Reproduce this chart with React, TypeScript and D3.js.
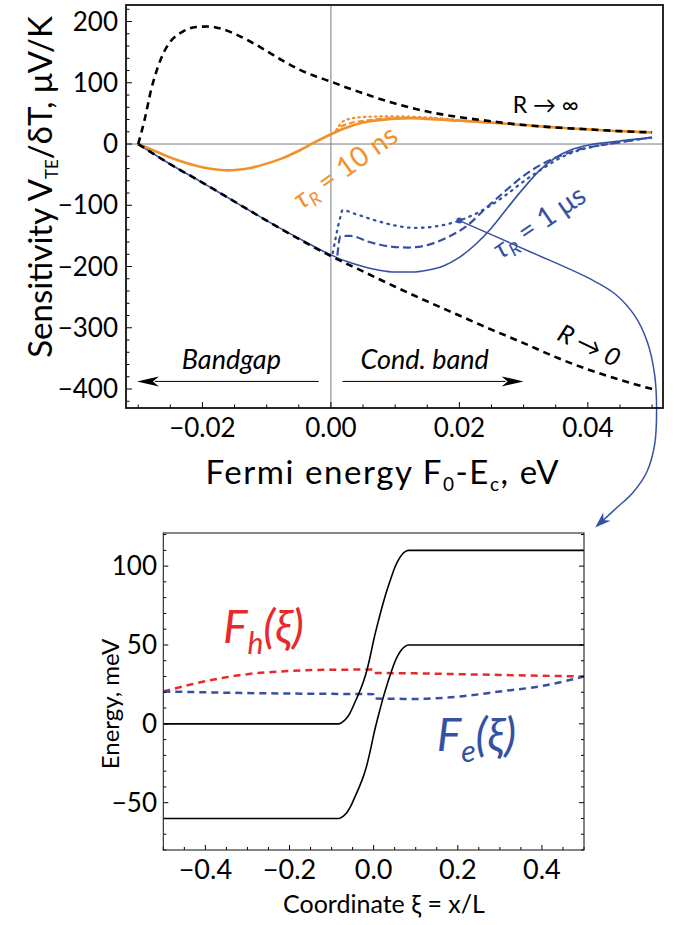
import React from 'react';
import * as d3 from 'd3';

type P = [number, number];

// ---------- Top chart: sensitivity vs Fermi energy ----------
const rInf: P[] = [
  [-0.03, 0], [-0.029, 40], [-0.028, 88], [-0.027, 124], [-0.026, 150], [-0.025, 167],
  [-0.023, 184], [-0.021, 191], [-0.019, 192], [-0.017, 188], [-0.015, 180], [-0.0125, 167],
  [-0.01, 152], [-0.0075, 136], [-0.005, 122], [-0.0025, 111], [0, 102], [0.0025, 92],
  [0.005, 83], [0.0075, 74], [0.01, 66], [0.0125, 59], [0.015, 53], [0.0175, 48],
  [0.02, 44], [0.025, 37], [0.03, 31], [0.035, 27], [0.04, 24], [0.045, 21], [0.05, 19],
];
const rZero: P[] = [
  [-0.03, 0], [-0.025, -33], [-0.02, -63], [-0.015, -94], [-0.01, -125], [-0.005, -155],
  [0, -183], [0.005, -208], [0.01, -233], [0.015, -257], [0.02, -280], [0.025, -303],
  [0.03, -325], [0.035, -348], [0.04, -368], [0.045, -385], [0.05, -400],
];
const orangeSolid: P[] = [
  [-0.03, 0], [-0.0275, -11], [-0.025, -22], [-0.0225, -31], [-0.02, -38], [-0.0175, -42],
  [-0.016, -43], [-0.0145, -42], [-0.0125, -39], [-0.01, -32], [-0.0075, -23], [-0.005, -11],
  [-0.0025, 3], [0, 16], [0.0025, 27], [0.005, 35], [0.0075, 39], [0.01, 41.5], [0.0125, 42],
  [0.015, 41], [0.02, 38], [0.025, 35], [0.03, 31], [0.035, 27], [0.04, 24], [0.045, 21], [0.05, 19],
];
const orangeDashed: P[] = [
  [0.0005, 18], [0.0015, 28], [0.003, 34], [0.006, 39], [0.009, 42], [0.012, 43],
  [0.015, 42], [0.02, 38.5], [0.025, 35],
];
const orangeDotted: P[] = [
  [0.0008, 22], [0.0015, 33], [0.0025, 40], [0.005, 44], [0.008, 45], [0.011, 45],
  [0.014, 44], [0.017, 42], [0.02, 39], [0.025, 35],
];
const blueSolid: P[] = [
  [-0.03, 0], [-0.025, -33], [-0.02, -63], [-0.015, -94], [-0.01, -125], [-0.005, -154],
  [-0.0025, -168], [0, -181], [0.0025, -192], [0.005, -200], [0.0075, -206], [0.01, -209],
  [0.0125, -209], [0.015, -206], [0.0175, -199], [0.02, -185], [0.0225, -164], [0.025, -137],
  [0.0275, -104], [0.03, -72], [0.0325, -43], [0.035, -22], [0.0375, -9], [0.04, -2],
  [0.0425, 2], [0.045, 5], [0.0475, 8], [0.05, 10],
];
const blueDashed: P[] = [
  [0.001, -182], [0.0015, -150], [0.003, -150], [0.006, -160], [0.009, -167], [0.012, -169],
  [0.015, -165], [0.018, -153], [0.021, -135], [0.024, -106], [0.027, -78], [0.03, -52],
  [0.033, -32], [0.036, -18], [0.039, -8], [0.042, -2], [0.045, 3], [0.05, 11],
];
const blueDotted: P[] = [
  [0.0003, -178], [0.0008, -150], [0.0015, -118], [0.0018, -108], [0.004, -115], [0.007, -125],
  [0.01, -133], [0.013, -137], [0.016, -135], [0.02, -125], [0.0246, -102], [0.027, -85],
  [0.0304, -58], [0.033, -40], [0.0362, -20], [0.039, -9], [0.042, -2], [0.045, 3], [0.05, 11],
];
const markerPoint: P = [0.02, -125];
const connector: P[] = [
  [0.02, -125], [0.031, -175.8], [0.0403, -219.9], [0.0442, -244.4], [0.0473, -280.3],
  [0.0493, -324.4], [0.0504, -376.7], [0.0507, -433.8], [0.0504, -491], [0.0492, -535.1],
  [0.047, -569.3], [0.0445, -593.8], [0.0416, -621.6],
];
const topXTicks = d3.range(-6, 11).map((i) => i * 0.005);
const topYTicks = d3.range(-21, 12).map((i) => i * 20);

// ---------- Bottom chart: energy vs coordinate ----------
const condBand: P[] = [
  [-0.5, 0], [-0.083, 0], [-0.077, 0.6], [-0.07, 2], [-0.063, 4], [-0.056, 7], [-0.044, 14],
  [-0.034, 20], [-0.024, 27], [-0.016, 34], [-0.008, 43], [0, 53], [0.012, 66], [0.022, 76],
  [0.032, 85], [0.042, 93], [0.05, 99], [0.058, 103.5], [0.065, 106.5], [0.074, 109], [0.083, 110],
  [0.5, 110],
];
const valBand: P[] = [
  [-0.5, -60], [-0.083, -60], [-0.077, -59.4], [-0.07, -58], [-0.063, -56], [-0.056, -53],
  [-0.044, -46], [-0.034, -40], [-0.024, -33], [-0.016, -26], [-0.008, -17], [0, -7], [0.012, 6],
  [0.022, 16], [0.032, 25], [0.042, 33], [0.05, 39], [0.058, 43.5], [0.065, 46.5], [0.074, 49],
  [0.083, 50], [0.5, 50],
];
const fh: P[] = [
  [-0.5, 20.5], [-0.4, 27], [-0.3, 31.5], [-0.2, 33.5], [-0.1, 34.3], [-0.001, 34.4],
  [0.001, 32.3], [0.1, 32], [0.2, 31.5], [0.3, 31], [0.4, 30.5], [0.5, 30],
];
const fe: P[] = [
  [-0.5, 20.5], [-0.4, 20], [-0.3, 19.5], [-0.2, 19.2], [-0.1, 19], [-0.001, 18.8],
  [0.001, 16], [0.1, 15.8], [0.2, 17.2], [0.3, 20.5], [0.4, 24], [0.5, 30],
];
const botXTicks = d3.range(-10, 11).map((i) => i * 0.05);
const botYTicks = d3.range(-8, 13).map((i) => i * 10);

const ORANGE = '#F2902B';
const BLUE = '#3451A4';
const RED = '#E62A2B';
const FONT = "Lato, 'Open Sans', sans-serif";

export default function App() {
  const x1 = d3.scaleLinear().domain([-0.0319, 0.0517]).range([126, 663]);
  const y1 = d3.scaleLinear().domain([-431, 227]).range([408, 5]);
  const x2 = d3.scaleLinear().domain([-0.5, 0.5]).range([163.3, 584]);
  const y2 = d3.scaleLinear().domain([-80, 121]).range([850, 533]);

  const l1 = d3.line<P>().x((d) => x1(d[0])).y((d) => y1(d[1])).curve(d3.curveMonotoneX);
  const l2 = d3.line<P>().x((d) => x2(d[0])).y((d) => y2(d[1])).curve(d3.curveMonotoneX);
  const lc = d3.line<P>().x((d) => x1(d[0])).y((d) => y1(d[1])).curve(d3.curveCatmullRom.alpha(0.5));

  const fx1 = d3.format('.2f');
  const fy = d3.format('d');
  const fx2 = d3.format('.1f');

  // connector arrowhead
  const cA = connector[connector.length - 2];
  const cB = connector[connector.length - 1];
  const ax = x1(cB[0]), ay = y1(cB[1]);
  const ang = Math.atan2(ay - y1(cA[1]), ax - x1(cA[0]));
  const hl = 16, hw = 5.5;
  const tipX = ax + Math.cos(ang) * 4, tipY = ay + Math.sin(ang) * 4;
  const head = [
    [tipX, tipY],
    [tipX - hl * Math.cos(ang) + hw * Math.sin(ang), tipY - hl * Math.sin(ang) - hw * Math.cos(ang)],
    [tipX - hl * 0.7 * Math.cos(ang), tipY - hl * 0.7 * Math.sin(ang)],
    [tipX - hl * Math.cos(ang) - hw * Math.sin(ang), tipY - hl * Math.sin(ang) + hw * Math.cos(ang)],
  ].map((p) => p.join(',')).join(' ');

  const arrowY = y1(-387.6);
  const bgStart = x1(-0.0019), bgEnd = x1(-0.0302);
  const cbStart = x1(0.0018), cbEnd = x1(0.030);

  const [L1, R1] = x1.range();
  const [B1, T1] = y1.range();
  const [L2, R2] = x2.range();
  const [B2, T2] = y2.range();

  return (
    <svg width={680} height={925} style={{ position: 'absolute', left: 0, top: 0, background: '#fff' }} fontFamily={FONT}>
      <defs>
        <clipPath id="clipTop"><rect x={L1} y={T1} width={R1 - L1} height={B1 - T1} /></clipPath>
        <clipPath id="clipBot"><rect x={L2} y={T2} width={R2 - L2} height={B2 - T2} /></clipPath>
      </defs>

      {/* ===== TOP CHART ===== */}
      <rect x={L1} y={T1} width={R1 - L1} height={B1 - T1} fill="#fff" />
      <line x1={x1(0)} x2={x1(0)} y1={T1} y2={B1} stroke="#7a7a7a" strokeWidth={1} />
      <line x1={L1} x2={R1} y1={y1(0)} y2={y1(0)} stroke="#7a7a7a" strokeWidth={1} />

      <g clipPath="url(#clipTop)" fill="none" strokeLinejoin="round">
        <path d={l1(blueSolid) || ''} stroke={BLUE} strokeWidth={1.6} />
        <path d={l1(blueDashed) || ''} stroke={BLUE} strokeWidth={2.2} strokeDasharray="8,4" />
        <path d={l1(blueDotted) || ''} stroke={BLUE} strokeWidth={2.3} strokeDasharray="1.5,5.5" strokeLinecap="round" />
        <path d={l1(orangeDotted) || ''} stroke={ORANGE} strokeWidth={2.2} strokeDasharray="1.5,4" strokeLinecap="round" />
        <path d={l1(orangeDashed) || ''} stroke={ORANGE} strokeWidth={2.2} strokeDasharray="6,3" />
        <path d={l1(orangeSolid) || ''} stroke={ORANGE} strokeWidth={2.6} />
        <path d={l1(rInf) || ''} stroke="#000" strokeWidth={2.6} strokeDasharray="7,5" />
        <path d={l1(rZero) || ''} stroke="#000" strokeWidth={2.6} strokeDasharray="7,5" />
      </g>

      {/* connector */}
      <path d={lc(connector) || ''} fill="none" stroke={BLUE} strokeWidth={1.5} />
      <polygon points={head} fill={BLUE} />
      <circle cx={x1(markerPoint[0])} cy={y1(markerPoint[1])} r={3} fill={BLUE} />

      {/* ticks top */}
      {topXTicks.map((t, i) => {
        const major = Math.round(t / 0.005) % 4 === 0;
        return <line key={'tx' + i} x1={x1(t)} x2={x1(t)} y1={B1} y2={B1 - (major ? 6 : 3.5)} stroke="#000" strokeWidth={1} />;
      })}
      {topYTicks.map((t, i) => {
        const major = t % 100 === 0;
        return <line key={'ty' + i} x1={L1} x2={L1 + (major ? 6 : 3.5)} y1={y1(t)} y2={y1(t)} stroke="#000" strokeWidth={1} />;
      })}
      <rect x={L1} y={T1} width={R1 - L1} height={B1 - T1} fill="none" stroke="#111" strokeWidth={1.8} />

      {topXTicks.filter((t) => Math.round(t / 0.005) % 4 === 0).map((t, i) => (
        <text key={'txl' + i} x={x1(t)} y={437} fontSize={26} textAnchor="middle">{fx1(Math.abs(t) < 1e-9 ? 0 : t)}</text>
      ))}
      {topYTicks.filter((t) => t % 100 === 0).map((t, i) => (
        <text key={'tyl' + i} x={118} y={y1(t)} dy="0.35em" fontSize={26} textAnchor="end">{fy(t)}</text>
      ))}

      <text transform="translate(52,187) rotate(-90)" textAnchor="middle" fontSize={33}>
        Sensitivity V<tspan dy={6} fontSize={17}>TE</tspan><tspan dy={-6}>/δT, μV/K</tspan>
      </text>
      <text x={382} y={484} textAnchor="middle" fontSize={33} textLength={353} lengthAdjust="spacing">
        Fermi energy F<tspan dy={7} fontSize={19}>0</tspan><tspan dy={-7}>-E</tspan><tspan dy={7} fontSize={19}>c</tspan><tspan dy={-7}>, eV</tspan>
      </text>

      {/* annotations top */}
      <text x={x1(0.0283)} y={y1(51)} fontSize={23}>R → ∞</text>
      <text transform={`translate(${x1(0.0402)},${y1(-329)}) rotate(25.5)`} textAnchor="middle" dy="0.35em" fontSize={25} fontStyle="italic">R → 0</text>
      <text transform={`translate(${x1(0.0022)},${y1(-37.4)}) rotate(-35.6)`} textAnchor="middle" dy="0.35em" fontSize={28} fill={ORANGE}>
        <tspan fontStyle="italic">τ</tspan><tspan dy={5} fontSize={18} fontStyle="italic">R</tspan><tspan dy={-5}> = 10 ns</tspan>
      </text>
      <text transform={`translate(${x1(0.0324)},${y1(-126.9)}) rotate(-34.4)`} textAnchor="middle" dy="0.35em" fontSize={28} fill={BLUE}>
        <tspan fontStyle="italic">τ</tspan><tspan dy={5} fontSize={18} fontStyle="italic">R</tspan><tspan dy={-5}> = 1 μs</tspan>
      </text>
      <text x={x1(-0.0155)} y={y1(-368)} textAnchor="middle" fontSize={27} fontStyle="italic">Bandgap</text>
      <text x={x1(0.0146)} y={y1(-368)} textAnchor="middle" fontSize={27} fontStyle="italic">Cond. band</text>
      <line x1={bgStart} x2={bgEnd + 18} y1={arrowY} y2={arrowY} stroke="#000" strokeWidth={1} />
      <polygon points={`${bgEnd},${arrowY} ${bgEnd + 22},${arrowY - 5} ${bgEnd + 16},${arrowY} ${bgEnd + 22},${arrowY + 5}`} fill="#000" />
      <line x1={cbStart} x2={cbEnd - 18} y1={arrowY} y2={arrowY} stroke="#000" strokeWidth={1} />
      <polygon points={`${cbEnd},${arrowY} ${cbEnd - 22},${arrowY - 5} ${cbEnd - 16},${arrowY} ${cbEnd - 22},${arrowY + 5}`} fill="#000" />

      {/* ===== BOTTOM CHART ===== */}
      <g clipPath="url(#clipBot)" fill="none">
        <path d={l2(fh) || ''} stroke={RED} strokeWidth={2.5} strokeDasharray="7,5" />
        <path d={l2(fe) || ''} stroke={BLUE} strokeWidth={2.5} strokeDasharray="7,5" />
        <path d={l2(condBand) || ''} stroke="#000" strokeWidth={1.6} />
        <path d={l2(valBand) || ''} stroke="#000" strokeWidth={1.6} />
      </g>
      {botXTicks.map((t, i) => {
        const major = Math.round(t / 0.05) % 4 === 0;
        return <line key={'bx' + i} x1={x2(t)} x2={x2(t)} y1={B2} y2={B2 - (major ? 5 : 3)} stroke="#000" strokeWidth={1} />;
      })}
      {botYTicks.map((t, i) => {
        const major = t % 50 === 0;
        const len = major ? 5 : 3;
        return (
          <g key={'by' + i}>
            <line x1={L2} x2={L2 + len} y1={y2(t)} y2={y2(t)} stroke="#000" strokeWidth={1} />
            <line x1={R2} x2={R2 - len} y1={y2(t)} y2={y2(t)} stroke="#000" strokeWidth={1} />
          </g>
        );
      })}
      <rect x={L2} y={T2} width={R2 - L2} height={B2 - T2} fill="none" stroke="#222" strokeWidth={1.1} />

      {botXTicks.filter((t) => Math.round(t / 0.05) % 4 === 0).map((t, i) => (
        <text key={'bxl' + i} x={x2(t)} y={879} fontSize={27} textAnchor="middle">{fx2(Math.abs(t) < 1e-9 ? 0 : t)}</text>
      ))}
      {botYTicks.filter((t) => t % 50 === 0).map((t, i) => (
        <text key={'byl' + i} x={157} y={y2(t)} dy="0.35em" fontSize={26} textAnchor="end">{fy(t)}</text>
      ))}
      <text transform="translate(119,704) rotate(-90)" textAnchor="middle" fontSize={24}>Energy, meV</text>
      <text x={384} y={913} textAnchor="middle" fontSize={25}>Coordinate ξ = x/L</text>

      <text x={x2(-0.358)} y={y2(51.5)} fontSize={46} fill={RED} fontStyle="italic">
        F<tspan dy={11} fontSize={30}>h</tspan><tspan dy={-11}>(ξ)</tspan>
      </text>
      <text x={x2(0.15)} y={y2(-17.4)} fontSize={46} fill={BLUE} fontStyle="italic">
        F<tspan dy={11} fontSize={30}>e</tspan><tspan dy={-11}>(ξ)</tspan>
      </text>
    </svg>
  );
}
